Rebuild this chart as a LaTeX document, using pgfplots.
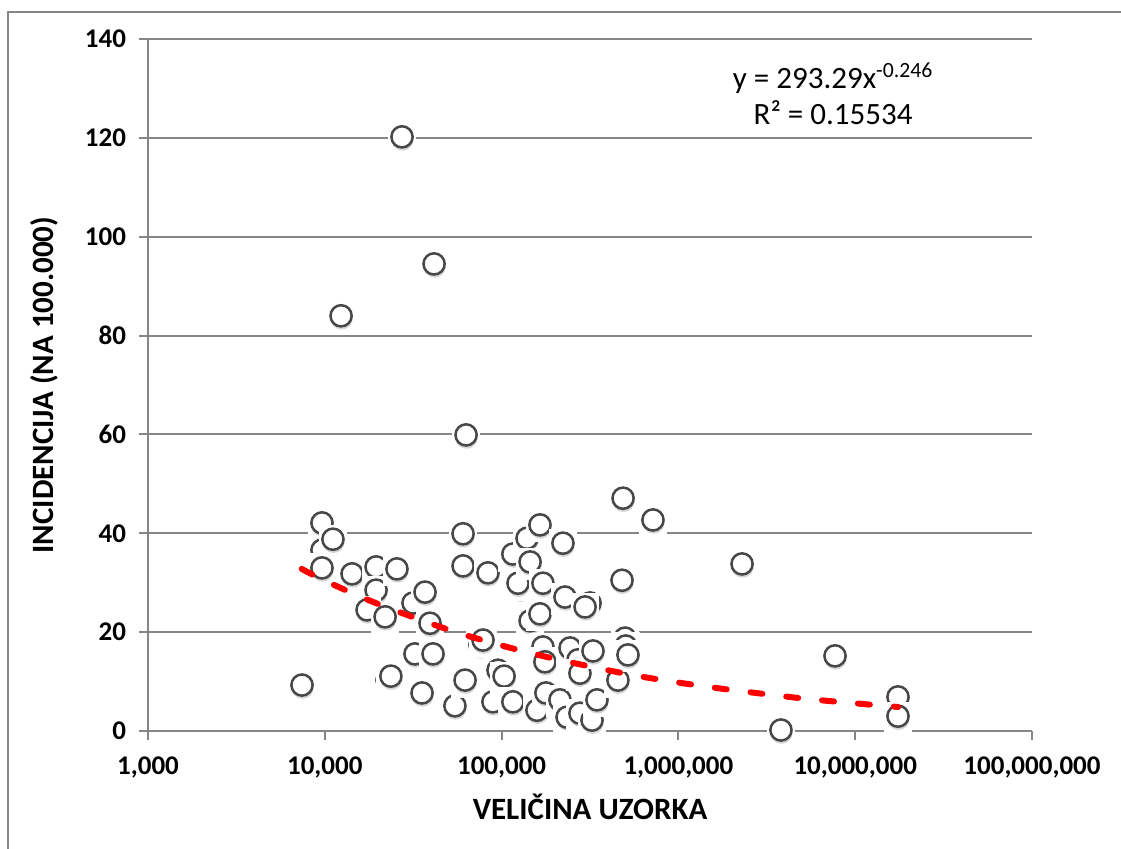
\documentclass[border=0pt]{standalone}
\usepackage{fontspec}
\setmainfont{Carlito}
\usepackage{pgfplots}
\pgfplotsset{compat=1.18}

\definecolor{axgray}{RGB}{134,134,134}

% circle marker with the white box and soft shadow the spreadsheet draws
\pgfdeclareplotmark{xlcirc}{%
  \pgfpathrectangle{\pgfqpoint{-7.2pt}{-8.8pt}}{\pgfqpoint{14.4pt}{16pt}}%
  \pgfsetfillcolor{white}\pgfusepath{fill}%
  \pgfpathcircle{\pgfqpoint{0.3pt}{-1.4pt}}{5.5pt}%
  \pgfsetfillcolor{black!16}\pgfusepath{fill}%
  \pgfpathcircle{\pgfpointorigin}{5.3pt}%
  \pgfsetfillcolor{white}\pgfsetstrokecolor{black!72}%
  \pgfsetlinewidth{1.25pt}\pgfusepath{fill,stroke}%
}

\begin{document}
\begin{tikzpicture}
\useasboundingbox (0,0) rectangle (560.5pt,424pt);
\draw[axgray, line width=1pt] (4pt,-20pt) -- (4pt,418pt) -- (640pt,418pt);
\begin{axis}[
    at={(74pt,58.5pt)}, anchor=south west,
    scale only axis,
    width=442pt, height=346pt,
    xmode=log,
    xmin=1000, xmax=100000000,
    ymin=0, ymax=140,
    axis x line*=bottom, axis y line*=left,
    axis line style={axgray, line width=1pt, -},
    xtick={1000,10000,100000,1000000,10000000,100000000},
    xticklabels={{1,000},{10,000},{100,000},{1,000,000},{10,000,000},{100,000,000}},
    ytick={0,20,40,60,80,100,120,140},
    yticklabels={0,20,40,60,80,100,120,140},
    xminorticks=false,
    tick align=outside,
    major tick length=4.5pt,
    tick style={axgray, line width=1pt},
    ymajorgrids,
    major grid style={axgray, line width=1pt},
    ticklabel style={font=\fontsize{13.5}{16}\selectfont\bfseries},
    xticklabel style={yshift=-5pt},
    yticklabel style={xshift=-3pt},
    xlabel={VELIČINA UZORKA},
    ylabel={INCIDENCIJA (NA 100.000)},
    label style={font=\fontsize{15.5}{18}\selectfont\bfseries},
    xlabel style={at={(axis description cs:0.5,-0.110)}, anchor=center},
    ylabel style={at={(axis description cs:-0.117,0.5)}, anchor=center},
    clip=false,
    clip marker paths=true,
]
\addplot[only marks, mark=xlcirc] coordinates {
(7430,9.3) (9640,42.1) (9640,36.6) (11120,38.8) (9640,33.0)
(12360,84.0) (14260,31.8) (19500,33.2) (19500,28.5) (17340,24.5)
(21930,23.1) (25590,32.8) (27330,120.2) (31540,25.9) (36900,28.1)
(39360,21.8) (32360,15.6) (40930,15.6) (22490,10.3) (23650,11.1)
(35480,7.7) (41500,94.5) (54450,5.1) (60530,39.9) (60530,33.4)
(62950,59.9) (62130,10.3) (75500,17.4) (78500,18.4) (83750,32.0)
(89330,5.9) (95400,12.3) (103300,11.1) (115800,5.9) (115800,35.8)
(127100,28.9) (123800,29.9) (139300,39.0) (144900,34.2) (144900,22.3)
(158500,4.2) (164800,41.7) (164800,23.7) (171300,29.9) (171300,17.0)
(175800,14.0) (178100,7.7) (213800,6.3) (222300,38.0) (228300,27.1)
(234500,2.8) (243800,16.8) (270400,14.4) (277400,11.7) (277400,3.6)
(316400,25.9) (296600,25.1) (324600,2.2) (328800,16.2) (346400,6.3)
(455000,10.3) (479800,30.5) (486400,47.1) (499000,18.8) (504000,17.2)
(518500,15.4) (717900,42.7) (2291000,33.8) (3802000,0.2) (7691000,15.2)
(17460000,6.9) (17460000,3.0)
};
% power trend line y = 293.29 x^-0.246
\addplot[red, line width=3pt, dash pattern=on 6pt off 12pt, line cap=round, smooth] coordinates {
(7400,32.8) (10000,30.4) (20000,25.7) (50000,20.5) (100000,17.3)
(200000,14.6) (500000,11.6) (1000000,9.8) (2000000,8.3) (5000000,6.6)
(10000000,5.6) (17500000,4.85)
};
\node[font=\fontsize{15.5}{18}\selectfont, align=center] at (rel axis cs:0.775,0.9205)
  {y = 293.29x\textsuperscript{-0.246}\\R² = 0.15534};
\end{axis}
\end{tikzpicture}
\end{document}
